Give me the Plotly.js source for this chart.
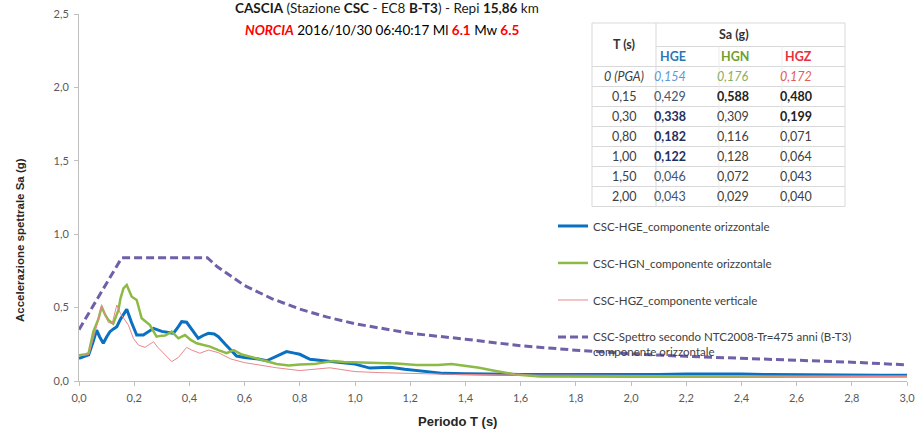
<!DOCTYPE html>
<html>
<head>
<meta charset="utf-8">
<script src="https://cdn.plot.ly/plotly-3.0.1.min.js"></script>
<style>html,body{margin:0;padding:0;background:#fff;}#chart{width:920px;height:432px;}</style>
</head>
<body>
<div id="chart"></div>
<script>
// ---------- DATA ----------
const T_HGE = [0, 0.02, 0.035, 0.05, 0.064, 0.075, 0.088, 0.1, 0.112, 0.125, 0.137, 0.15, 0.173, 0.19, 0.209, 0.233, 0.25, 0.27, 0.3, 0.32, 0.342, 0.36, 0.372, 0.39, 0.41, 0.432, 0.45, 0.469, 0.49, 0.505, 0.53, 0.55, 0.571, 0.6, 0.65, 0.68, 0.72, 0.752, 0.78, 0.8, 0.837, 0.88, 0.934, 1.0, 1.054, 1.1, 1.127, 1.18, 1.223, 1.27, 1.32, 1.4, 1.5, 1.6, 1.7, 1.8, 1.9, 2.0, 2.1, 2.2, 2.3, 2.4, 2.5, 2.6, 2.7, 2.8, 2.9, 3.0];
const SA_HGE = [0.154, 0.165, 0.178, 0.26, 0.347, 0.3, 0.257, 0.3, 0.336, 0.355, 0.37, 0.42, 0.488, 0.4, 0.313, 0.313, 0.335, 0.359, 0.338, 0.33, 0.325, 0.37, 0.404, 0.4, 0.35, 0.291, 0.31, 0.325, 0.32, 0.302, 0.25, 0.211, 0.17, 0.16, 0.15, 0.138, 0.17, 0.2, 0.19, 0.182, 0.148, 0.14, 0.13, 0.115, 0.088, 0.09, 0.093, 0.08, 0.07, 0.06, 0.052, 0.05, 0.046, 0.045, 0.044, 0.043, 0.043, 0.043, 0.045, 0.047, 0.048, 0.047, 0.044, 0.042, 0.041, 0.04, 0.04, 0.04];

const T_HGN = [0, 0.02, 0.035, 0.052, 0.07, 0.082, 0.095, 0.106, 0.124, 0.143, 0.15, 0.161, 0.173, 0.191, 0.209, 0.227, 0.257, 0.281, 0.3, 0.312, 0.336, 0.36, 0.384, 0.405, 0.426, 0.45, 0.475, 0.505, 0.535, 0.56, 0.59, 0.62, 0.67, 0.716, 0.76, 0.8, 0.85, 0.921, 0.96, 1.0, 1.054, 1.1, 1.15, 1.223, 1.3, 1.35, 1.4, 1.45, 1.5, 1.58, 1.67, 1.8, 1.9, 2.0, 2.2, 2.4, 2.6, 2.8, 3.0];
const SA_HGN = [0.176, 0.18, 0.19, 0.336, 0.42, 0.506, 0.45, 0.416, 0.39, 0.484, 0.56, 0.631, 0.654, 0.574, 0.552, 0.427, 0.381, 0.302, 0.309, 0.31, 0.336, 0.291, 0.313, 0.28, 0.257, 0.245, 0.234, 0.21, 0.189, 0.211, 0.18, 0.166, 0.14, 0.116, 0.105, 0.112, 0.115, 0.136, 0.13, 0.128, 0.127, 0.125, 0.12, 0.109, 0.109, 0.116, 0.104, 0.09, 0.072, 0.045, 0.03, 0.028, 0.028, 0.029, 0.029, 0.03, 0.03, 0.03, 0.03];

const T_HGZ = [0, 0.02, 0.035, 0.062, 0.082, 0.095, 0.106, 0.12, 0.137, 0.15, 0.165, 0.179, 0.197, 0.215, 0.239, 0.255, 0.27, 0.285, 0.3, 0.336, 0.36, 0.39, 0.408, 0.438, 0.469, 0.505, 0.55, 0.6, 0.716, 0.8, 0.909, 1.0, 1.09, 1.21, 1.35, 1.5, 1.6, 1.8, 2.0, 2.2, 2.4, 2.6, 2.8, 3.0];
const SA_HGZ = [0.172, 0.175, 0.18, 0.359, 0.52, 0.45, 0.4, 0.39, 0.518, 0.46, 0.42, 0.381, 0.291, 0.245, 0.229, 0.25, 0.268, 0.23, 0.199, 0.132, 0.16, 0.229, 0.211, 0.189, 0.211, 0.193, 0.15, 0.125, 0.09, 0.071, 0.09, 0.064, 0.057, 0.05, 0.045, 0.043, 0.04, 0.04, 0.04, 0.038, 0.035, 0.032, 0.03, 0.03];

const T_NTC = [0, 0.155, 0.465, 0.5, 0.6, 0.7, 0.8, 0.9, 1.0, 1.2, 1.4, 1.6, 1.8, 2.0, 2.2, 2.4, 2.6, 2.8, 3.0];
const SA_NTC = [0.35, 0.84, 0.84, 0.78, 0.65, 0.56, 0.49, 0.435, 0.39, 0.325, 0.285, 0.24, 0.21, 0.185, 0.168, 0.155, 0.142, 0.128, 0.11];

const SERIES_NAMES = ['CSC-HGE_componente orizzontale', 'CSC-HGN_componente orizzontale', 'CSC-HGZ_componente verticale', 'CSC-Spettro secondo NTC2008-Tr=475 anni (B-T3)<br>componente orizzontale'];

// table
const TABLE_T = ['0 (PGA)', '0,15', '0,30', '0,80', '1,00', '1,50', '2,00'];
const TABLE_HGE = [0.154, 0.429, 0.338, 0.182, 0.122, 0.046, 0.043];
const TABLE_HGN = [0.176, 0.588, 0.309, 0.116, 0.128, 0.072, 0.029];
const TABLE_HGZ = [0.172, 0.480, 0.199, 0.071, 0.064, 0.043, 0.040];
const TABLE_COLS = ['HGE', 'HGN', 'HGZ'];

// ---------- STYLE ----------
const FONT = 'Lato, "Open Sans", sans-serif';
const ARIAL = '"Liberation Sans", Arial, sans-serif';
const M = {l: 79, r: 13, t: 14, b: 51};
const W = 920, H = 432;
const PW = W - M.l - M.r, PH = H - M.t - M.b;
const px = v => (v - M.l) / PW;
const py = v => (H - M.b - v) / PH;

const colColor = ['#2e75b6', '#6f9e32', '#e8303a'];
const pgaColor = ['#5b9bd5', '#8aae5c', '#e35a5a'];
const boldFlags = [
  [false, false, true, true, true, false, false],
  [false, true, false, false, false, false, false],
  [false, true, true, false, false, false, false]
];
const valueColor = ['#44546a', '#404040', '#404040'];
const boldColor = ['#1f3060', '#222222', '#222222'];

const fmt = v => v.toFixed(3).replace('.', ',');

// ---------- TRACES ----------
const traces = [
  {x: T_HGE, y: SA_HGE, name: SERIES_NAMES[0], mode: 'lines', line: {color: '#0a70c0', width: 3}, legendgroup: 'a'},
  {x: T_HGN, y: SA_HGN, name: SERIES_NAMES[1], mode: 'lines', line: {color: '#8cba45', width: 2.5}, legendgroup: 'b'},
  {x: T_HGZ, y: SA_HGZ, name: SERIES_NAMES[2], mode: 'lines', line: {color: '#e8888c', width: 1}, legendgroup: 'c'},
  {x: T_NTC, y: SA_NTC, name: SERIES_NAMES[3], mode: 'lines', line: {color: '#7060a8', width: 3, dash: '8px,4px'}, legendgroup: 'd'}
];

// ---------- TABLE (shapes + annotations) ----------
const colX = [592, 656, 719, 782, 845];
const rowTop = 23, rowSa = 46.5, rowHead = 66.5, rowH = 20;
const shapes = [];
const annotations = [];
const border = '#d9d9d9';
const nRows = TABLE_T.length;
const tableBottom = rowHead + nRows * rowH;
shapes.push({type: 'rect', xref: 'paper', yref: 'paper', x0: px(colX[0]), x1: px(colX[4]), y0: py(tableBottom), y1: py(rowTop), line: {color: border, width: 1}, fillcolor: '#ffffff', layer: 'above'});
shapes.push({type: 'line', xref: 'paper', yref: 'paper', x0: px(colX[1]), x1: px(colX[4]), y0: py(rowSa), y1: py(rowSa), line: {color: border, width: 1}, layer: 'above'});
for (let r = 0; r < nRows; r++) {
  const yy = rowHead + r * rowH;
  shapes.push({type: 'line', xref: 'paper', yref: 'paper', x0: px(colX[0]), x1: px(colX[4]), y0: py(yy), y1: py(yy), line: {color: border, width: 1}, layer: 'above'});
}
shapes.push({type: 'line', xref: 'paper', yref: 'paper', x0: px(colX[1]), x1: px(colX[1]), y0: py(rowTop), y1: py(tableBottom), line: {color: border, width: 1}, layer: 'above'});
for (let c = 2; c < 4; c++) {
  shapes.push({type: 'line', xref: 'paper', yref: 'paper', x0: px(colX[c]), x1: px(colX[c]), y0: py(rowSa), y1: py(tableBottom), line: {color: '#ebebeb', width: 1}, layer: 'above'});
}
const cx = c => px((colX[c] + colX[c + 1]) / 2);
const tfont = (color, size) => ({family: FONT, size: size || 12.5, color: color});
annotations.push({xref: 'paper', yref: 'paper', x: cx(0), y: py((rowTop + rowHead) / 2), text: '<b>T (s)</b>', showarrow: false, font: tfont('#333333'), yanchor: 'middle'});
annotations.push({xref: 'paper', yref: 'paper', x: px((colX[1] + colX[4]) / 2), y: py((rowTop + rowSa) / 2), text: '<b>Sa (g)</b>', showarrow: false, font: tfont('#333333'), yanchor: 'middle'});
TABLE_COLS.forEach((name, c) => {
  annotations.push({xref: 'paper', yref: 'paper', x: cx(c + 1), y: py((rowSa + rowHead) / 2), text: '<b>' + name + '</b>', showarrow: false, font: tfont(colColor[c]), yanchor: 'middle'});
});
const tableVals = [TABLE_HGE, TABLE_HGN, TABLE_HGZ];
for (let r = 0; r < nRows; r++) {
  const yc = py(rowHead + r * rowH + rowH / 2);
  annotations.push({xref: 'paper', yref: 'paper', x: cx(0), y: yc, text: r === 0 ? '<i>' + TABLE_T[r] + '</i>' : TABLE_T[r], showarrow: false, font: tfont('#404040'), yanchor: 'middle'});
  for (let c = 0; c < 3; c++) {
    let t = fmt(tableVals[c][r]);
    let col = valueColor[c];
    if (r === 0) { t = '<i>' + t + '</i>'; col = pgaColor[c]; }
    else if (boldFlags[c][r]) { t = '<b>' + t + '</b>'; col = boldColor[c]; }
    annotations.push({xref: 'paper', yref: 'paper', x: cx(c + 1), y: yc, text: t, showarrow: false, font: tfont(col), yanchor: 'middle'});
  }
}

// ---------- TITLES ----------
annotations.push({xref: 'paper', yref: 'paper', x: px(387), y: py(8), yanchor: 'middle', showarrow: false,
  text: '<b>CASCIA</b> (Stazione <b>CSC</b> - EC8 <b>B-T3</b>) - Repi <b>15,86</b> km', font: {family: FONT, size: 13.5, color: '#1a1a1a'}});
annotations.push({xref: 'paper', yref: 'paper', x: px(382), y: py(30), yanchor: 'middle', showarrow: false,
  text: '<b><i><span style="color:#ff0000">NORCIA</span></i></b> 2016/10/30 06:40:17 Ml <b><span style="color:#ff0000">6.1</span></b> Mw <b><span style="color:#ff0000">6.5</span></b>',
  font: {family: FONT, size: 13.5, color: '#000000'}});
annotations.push({xref: 'paper', yref: 'paper', x: px(457), y: py(421), yanchor: 'middle', showarrow: false,
  text: '<b>Periodo T (s)</b>', font: {family: ARIAL, size: 13, color: '#262626'}});
annotations.push({xref: 'paper', yref: 'paper', x: px(20), y: py(240), yanchor: 'middle', xanchor: 'center', showarrow: false, textangle: -90,
  text: '<b>Accelerazione spettrale Sa (g)</b>', font: {family: ARIAL, size: 11.5, color: '#262626'}});

// ---------- LAYOUT ----------
const layout = {
  width: W, height: H,
  margin: M,
  paper_bgcolor: '#ffffff', plot_bgcolor: '#ffffff',
  separators: ',.',
  font: {family: FONT, size: 11, color: '#595959'},
  showlegend: true,
  legend: {x: px(553), y: py(212), xanchor: 'left', yanchor: 'top', bgcolor: 'rgba(0,0,0,0)',
    font: {family: FONT, size: 11.5, color: '#404040'}, tracegroupgap: 18, valign: 'top', itemwidth: 30},
  xaxis: {range: [0, 3], dtick: 0.2, tick0: 0, tickformat: '.1f', showgrid: false, zeroline: false,
    showline: true, linecolor: '#bfbfbf', linewidth: 1, ticks: 'outside', ticklen: 4, tickcolor: '#bfbfbf',
    tickfont: {family: FONT, size: 11, color: '#595959'}, ticklabelstandoff: 3},
  yaxis: {range: [0, 2.5], dtick: 0.5, tick0: 0, tickformat: '.1f', showgrid: false, zeroline: false,
    showline: true, linecolor: '#bfbfbf', linewidth: 1, ticks: 'outside', ticklen: 4, tickcolor: '#bfbfbf',
    tickfont: {family: FONT, size: 11, color: '#595959'}, ticklabelstandoff: 3},
  shapes: shapes,
  annotations: annotations
};

Plotly.newPlot('chart', traces, layout, {staticPlot: true, displayModeBar: false});
</script>
</body>
</html>
